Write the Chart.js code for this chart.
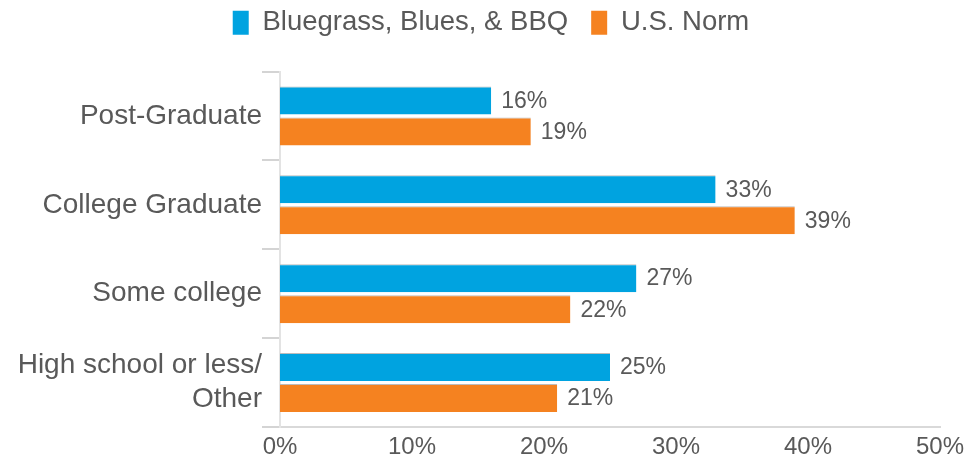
<!DOCTYPE html>
<html>
<head>
<meta charset="utf-8">
<script src="https://cdn.jsdelivr.net/npm/chart.js@4.4.1/dist/chart.umd.min.js"></script>
<style>
  html, body { margin: 0; padding: 0; background: #fff; }
  #wrap { width: 967px; height: 459px; }
</style>
</head>
<body>
<div id="wrap"><canvas id="chart" width="967" height="459"></canvas></div>
<script>
var categories = ['Post-Graduate', 'College Graduate', 'Some college', ['High school or less/', 'Other']];
var bbqValues = [16, 33, 27, 25];
var normValues = [19, 39, 22, 21];
var seriesNames = ['Bluegrass, Blues, & BBQ', 'U.S. Norm'];
var xTicks = [0, 10, 20, 30, 40, 50];

var textColor = '#595959';
var fontFamily = '"Liberation Sans", Arial, sans-serif';

// draws the % value next to the end of every bar
var valueLabels = {
  id: 'valueLabels',
  afterDatasetsDraw: function(chart) {
    var ctx = chart.ctx;
    ctx.save();
    ctx.font = '23px ' + fontFamily;
    ctx.fillStyle = textColor;
    ctx.textAlign = 'left';
    ctx.textBaseline = 'middle';
    chart.data.datasets.forEach(function(ds, i) {
      chart.getDatasetMeta(i).data.forEach(function(bar, j) {
        ctx.fillText(ds.data[j] + '%', bar.x + 10, bar.y + 1);
      });
    });
    ctx.restore();
  }
};

// extra room under the legend, and nudge it right a bit
var legendSpace = {
  id: 'legendSpace',
  beforeInit: function(chart) {
    var fit = chart.legend.fit;
    chart.legend.fit = function() {
      fit.bind(chart.legend)();
      this.height += 25;
    };
  },
  afterLayout: function(chart) {
    chart.legend.left += 21;
    chart.legend.right += 21;
  }
};

var ctx = document.getElementById('chart');
var chart = new Chart(ctx, {
  type: 'bar',
  data: {
    labels: categories,
    datasets: [{
      label: seriesNames[0],
      data: bbqValues,
      backgroundColor: '#00A3E0',
      borderColor: '#bcbcbc',
      borderWidth: { top: 1, right: 0, bottom: 0, left: 0 },
      categoryPercentage: 0.7,
      barPercentage: 0.9
    }, {
      label: seriesNames[1],
      data: normValues,
      backgroundColor: '#F58220',
      borderColor: '#bcbcbc',
      borderWidth: { top: 1, right: 0, bottom: 0, left: 0 },
      categoryPercentage: 0.7,
      barPercentage: 0.9
    }]
  },
  options: {
    indexAxis: 'y',
    responsive: false,
    animation: false,
    layout: {
      padding: { top: -14, right: 27, left: 0, bottom: 0 }
    },
    plugins: {
      tooltip: { enabled: false },
      legend: {
        position: 'top',
        labels: {
          color: textColor,
          font: { family: fontFamily, size: 27.5 },
          boxWidth: 16,
          boxHeight: 24,
          padding: 23,
          generateLabels: function(chart) {
            var items = Chart.defaults.plugins.legend.labels.generateLabels(chart);
            items.forEach(function(it) { it.lineWidth = 0; });
            return items;
          }
        }
      }
    },
    scales: {
      x: {
        min: 0,
        max: 50,
        afterBuildTicks: function(scale) {
          scale.ticks = xTicks.map(function(v) { return { value: v }; });
        },
        afterFit: function(scale) { scale.height = 32; },
        ticks: {
          color: textColor,
          font: { family: fontFamily, size: 24 },
          padding: -2,
          callback: function(v) { return v + '%'; }
        },
        grid: { display: false },
        border: { display: true, color: '#d9d9d9', width: 2 }
      },
      y: {
        afterFit: function(scale) { scale.width = 280; },
        ticks: {
          color: textColor,
          font: { family: fontFamily, size: 28, lineHeight: 1.2 },
          padding: 0
        },
        grid: {
          drawOnChartArea: false,
          tickLength: 18,
          color: '#d4d4d4',
          lineWidth: 2
        },
        border: { display: true, color: '#e3e3e3', width: 2 }
      }
    }
  },
  plugins: [valueLabels, legendSpace]
});
</script>
</body>
</html>
